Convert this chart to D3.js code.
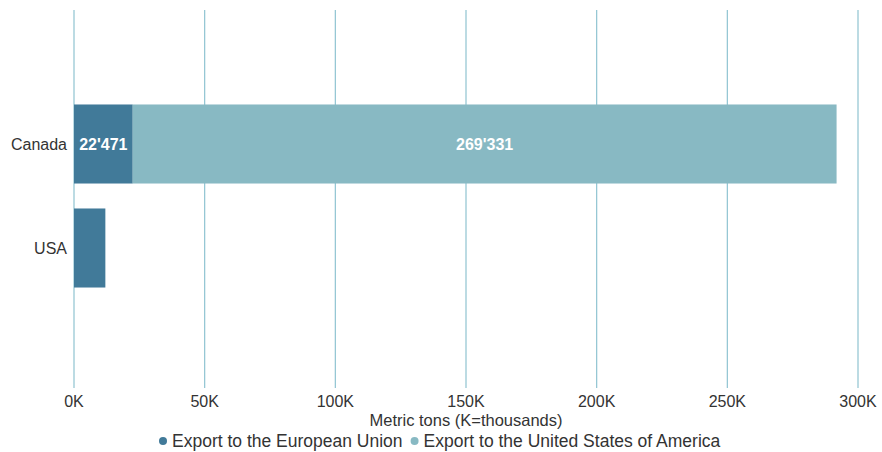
<!DOCTYPE html>
<html><head><meta charset="utf-8">
<script src="https://cdn.jsdelivr.net/npm/d3@7"></script>
<style>body{margin:0;background:#fff;font-family:"Liberation Sans",Arial,sans-serif;}</style>
</head><body><svg id="c" width="882" height="452"></svg>
<script>
const categories = ["Canada", "USA"];
const seriesNames = ["Export to the European Union", "Export to the United States of America"];
const euValues = [22471, 12000];
const usValues = [269331, 0];
const tickValues = [0, 50000, 100000, 150000, 200000, 250000, 300000];
const colors = ["#417a99", "#88b9c3"];

const svg = d3.select("#c").style("font-family", "'Liberation Sans', Arial, sans-serif");
const x = d3.scaleLinear().domain([0, 300000]).range([74, 858]);
const y = d3.scaleBand().domain(categories).range([92, 300]).paddingInner(0.24).paddingOuter(0.12);
const fmt = v => d3.format(",")(v).replace(/,/g, "'");

// gridlines
svg.append("g").selectAll("line").data(tickValues).join("line")
  .attr("x1", d => x(d)).attr("x2", d => x(d)).attr("y1", 10).attr("y2", 388)
  .attr("stroke", "#8fc3d1").attr("stroke-width", 1.2);

// tick labels
svg.append("g").selectAll("text").data(tickValues).join("text")
  .attr("x", d => x(d)).attr("y", 407).attr("text-anchor", "middle")
  .attr("font-size", 16).attr("fill", "#333").text(d => d3.format("d")(d / 1000) + "K");

svg.append("text").attr("x", 466).attr("y", 426).attr("text-anchor", "middle")
  .attr("font-size", 16.5).attr("fill", "#333").text("Metric tons (K=thousands)");

// category labels
svg.append("g").selectAll("text").data(categories).join("text")
  .attr("x", 67).attr("y", d => y(d) + y.bandwidth() / 2 + 6).attr("text-anchor", "end")
  .attr("font-size", 16).attr("fill", "#333").text(d => d);

// stacked bars
const rows = categories.map((c, i) => ({c, v: [euValues[i], usValues[i]]}));
rows.forEach(r => {
  let acc = 0;
  r.v.forEach((v, k) => {
    if (v > 0) {
      svg.append("rect").attr("x", x(acc)).attr("y", y(r.c))
        .attr("width", x(acc + v) - x(acc)).attr("height", y.bandwidth()).attr("fill", colors[k]);
      const w = x(acc + v) - x(acc);
      if (w > 50) {
        svg.append("text").attr("x", (x(acc) + x(acc + v)) / 2).attr("y", y(r.c) + y.bandwidth() / 2 + 6)
          .attr("text-anchor", "middle").attr("font-size", 16).attr("font-weight", "bold")
          .attr("fill", "#fff").text(fmt(v));
      }
    }
    acc += v;
  });
});

// legend
const lg = svg.append("g");
let lx = 163;
seriesNames.forEach((n, k) => {
  lg.append("circle").attr("cx", lx).attr("cy", 441).attr("r", 4).attr("fill", colors[k]);
  const t = lg.append("text").attr("x", lx + 9).attr("y", 447).attr("font-size", 17.5).attr("fill", "#333").text(n);
  lx += 9 + t.node().getComputedTextLength() + 12;
});
</script></body></html>
